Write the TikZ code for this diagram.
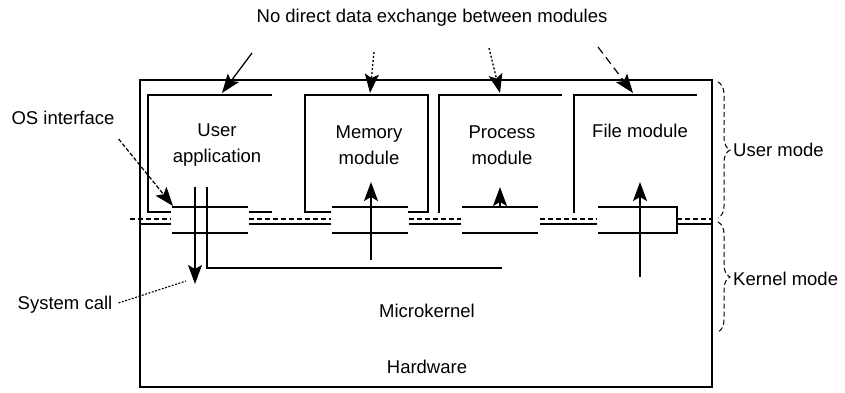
\documentclass[tikz,border=0pt]{standalone}
\usepackage{fontspec}
\setmainfont{Liberation Sans}
\usetikzlibrary{arrows.meta,decorations.pathreplacing}
\begin{document}
\begin{tikzpicture}[x=1pt,y=-1pt,
  wall/.style={line width=1.6pt},
  iface/.style={line width=1.5pt},
  tipped/.style={arrows={-Stealth[length=19pt,width=14pt,inset=4pt]}},
  lbl/.style={font=\fontsize{18.5}{26}\selectfont, inner sep=0pt, align=center},
  dashln/.style={line width=1.3pt, dash pattern=on 5pt off 3pt},
  solidln/.style={line width=1.3pt},
  dotln/.style={line width=1.3pt, dash pattern=on 2pt off 2pt},
  bracestyle/.style={line width=1pt, dash pattern=on 5pt off 3pt, decorate, decoration={brace, amplitude=12pt}}
]
\useasboundingbox[fill=white] (0,0) rectangle (845,393);

% outer box
\draw[wall] (140,80) rectangle (712,387);

% module boxes
\draw[wall] (272,95) -- (148,95) -- (148,212) -- (171,212);
\draw[wall] (249,212) -- (272,212);
\draw[wall] (331,212) -- (305,212) -- (305,95) -- (428,95) -- (428,212) -- (408,212);
\draw[wall] (439,213) -- (439,95) -- (562,95);
\draw[wall] (574,213) -- (574,95) -- (697,95);

% interface blocks
\draw[iface] (172,207) -- (248,207) (172,233) -- (248,233);
\draw[iface] (332,207) -- (408,207) (332,233) -- (408,233);
\draw[iface] (462,207) -- (538,207) (462,233) -- (538,233);
\draw[iface] (598,207) -- (677,207) -- (677,233) -- (598,233);

% user/kernel boundary
\draw[dashln] (130,219) -- (171,219) (249,219) -- (331,219) (409,219) -- (461,219) (540,219) -- (597,219) (677,219) -- (711,219);
\draw[solidln] (140,224) -- (171,224) (249,224) -- (331,224) (409,224) -- (461,224) (540,224) -- (597,224) (677,224) -- (711,224);

% system call lines
\coordinate (scTop) at (195,187);
\coordinate (scEnd) at (195,284);
\draw[iface, tipped] (scTop) -- (scEnd);
\draw[iface] (207,187) -- (207,268) -- (502,268);

% arrows up into modules
\coordinate (memBot) at (371,260);
\coordinate (memTip) at (371,182);
\draw[iface, tipped] (memBot) -- (memTip);
\coordinate (procBot) at (500,207);
\coordinate (procTip) at (500,187);
\draw[iface, tipped] (procBot) -- (procTip);
\coordinate (fileBot) at (640,277);
\coordinate (fileTip) at (640,182);
\draw[iface, tipped] (fileBot) -- (fileTip);

% texts
\node[lbl] (title) at (432,18) {No direct data exchange between modules};
\node[lbl] (user) at (217,145) {User\\application};
\node[lbl] (mem) at (369,145) {Memory\\module};
\node[lbl] (proc) at (502,145) {Process\\module};
\node[lbl] (file) at (640,131) {File module};
\node[lbl] (micro) at (427,311) {Microkernel};
\node[lbl] (hw) at (427,367) {Hardware};
\node[lbl] (osif) at (63,118) {OS interface};
\node[lbl] (syscall) at (65,305) {System call};
\node[lbl, anchor=west] (umode) at (733,150) {User mode};
\node[lbl, anchor=west] (kmode) at (733,279) {Kernel mode};

% arrows from the title
\coordinate (a1s) at (252,53);  \coordinate (a1e) at (222,93);
\coordinate (a2s) at (374,52);  \coordinate (a2e) at (370,93);
\coordinate (a3s) at (489,48);  \coordinate (a3e) at (500,93);
\coordinate (a4s) at (598,47);  \coordinate (a4e) at (633,93);
\draw[solidln, tipped] (a1s) -- (a1e);
\draw[dotln, tipped] (a2s) -- (a2e);
\draw[dotln, tipped] (a3s) -- (a3e);
\draw[line width=1.2pt, dash pattern=on 8pt off 5pt, tipped] (a4s) -- (a4e);

% leader lines
\coordinate (osTip) at (173,206);
\draw[line width=1.2pt, dash pattern=on 4pt off 2pt, tipped] (osif.south east) ++(4,14) -- (osTip);
\coordinate (scLead) at (186,281);
\draw[line width=1.1pt, dash pattern=on 2pt off 1.5pt] (syscall.east) ++(6,-2) -- (scLead);

% braces
\draw[bracestyle] (718,82) -- (718,218);
\draw[bracestyle] (718,222) -- (718,332);
\end{tikzpicture}
\end{document}
